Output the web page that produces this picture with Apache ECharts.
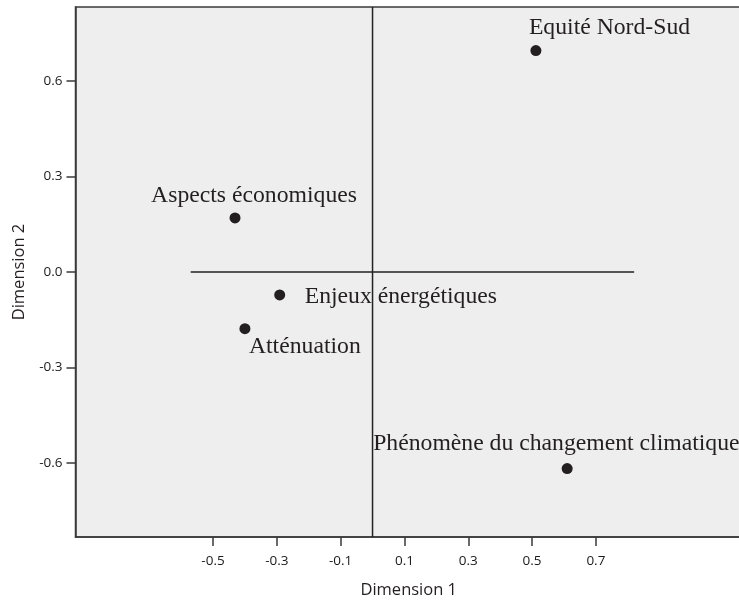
<!DOCTYPE html>
<html>
<head>
<meta charset="utf-8">
<script src="https://cdn.jsdelivr.net/npm/echarts@6/dist/echarts.min.js"></script>
<style>html,body{margin:0;padding:0;background:#fff;}#c{width:739px;height:600px;}</style>
</head>
<body>
<div id="c"></div>
<script>
const categories = ["Equité Nord-Sud", "Aspects économiques", "Enjeux énergétiques", "Atténuation", "Phénomène du changement climatique"];
const dim1 = [0.512, -0.431, -0.291, -0.400, 0.610];
const dim2 = [0.696, 0.170, -0.072, -0.178, -0.618];
const xTicks = [-0.5, -0.3, -0.1, 0.1, 0.3, 0.5, 0.7];
const yTicks = [-0.6, -0.3, 0.0, 0.3, 0.6];
const hRef = [[-0.570, 0], [0.820, 0]];
const vRef = [[0, -0.833], [0, 0.833]];

const labelStyle = [
  {align: 'left', offset: [-7, -23]},
  {align: 'center', offset: [19, -22]},
  {align: 'left', offset: [25, 2]},
  {align: 'left', offset: [4, 18]},
  {align: 'left', offset: [-194, -25]}
];

const ink = '#231f20';
const chart = echarts.init(document.getElementById('c'), null, {renderer: 'canvas'});
chart.setOption({
  animation: false,
  grid: {left: 75.5, top: 7, right: -3, bottom: 63, containLabel: false, outerBoundsMode: 'none',
    show: true, backgroundColor: '#eeeeee', borderColor: '#3a3a3a', borderWidth: 1.5},
  xAxis: {
    type: 'value', min: -0.931, max: 1.158,
    name: 'Dimension 1', nameLocation: 'middle', nameGap: 45,
    nameTextStyle: {fontFamily: 'Open Sans', fontSize: 16.5, color: ink},
    axisLine: {show: true, onZero: false, lineStyle: {color: '#3a3a3a', width: 1.5}},
    axisTick: {show: true, length: 9, customValues: xTicks, lineStyle: {color: '#3a3a3a', width: 1.5}},
    axisLabel: {customValues: xTicks, margin: 17, fontFamily: 'Open Sans', fontSize: 13.5, color: '#1a1a1a', formatter: v => v.toFixed(1)},
    splitLine: {show: false}
  },
  yAxis: {
    type: 'value', min: -0.833, max: 0.833,
    name: 'Dimension 2', nameLocation: 'middle', nameGap: 48,
    nameTextStyle: {fontFamily: 'Open Sans', fontSize: 16.5, color: ink},
    axisLine: {show: true, onZero: false, lineStyle: {color: '#3a3a3a', width: 1.5}},
    axisTick: {show: true, length: 9, customValues: yTicks, lineStyle: {color: '#3a3a3a', width: 1.5}},
    axisLabel: {customValues: yTicks, margin: 13, fontFamily: 'Open Sans', fontSize: 13.5, color: '#1a1a1a', formatter: v => v.toFixed(1)},
    splitLine: {show: false}
  },
  series: [
    {type: 'line', data: hRef, symbol: 'none', silent: true, lineStyle: {color: '#222', width: 1.5}},
    {type: 'line', data: vRef, symbol: 'none', silent: true, lineStyle: {color: '#222', width: 1.5}},
    {
      type: 'scatter', symbolSize: 11, itemStyle: {color: ink, opacity: 1},
      data: categories.map((c, i) => ({
        name: c, value: [dim1[i], dim2[i]],
        label: {show: true, position: 'inside', formatter: c, verticalAlign: 'middle',
          align: labelStyle[i].align, offset: labelStyle[i].offset,
          fontFamily: 'Liberation Serif', fontSize: 23.7, color: ink, opacity: 1}
      }))
    }
  ]
});
</script>
</body>
</html>
